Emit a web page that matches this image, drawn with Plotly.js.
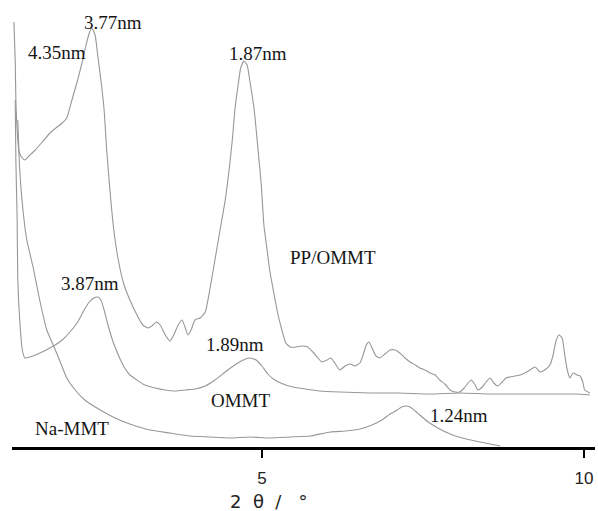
<!DOCTYPE html>
<html>
<head>
<meta charset="utf-8">
<script src="https://cdn.plot.ly/plotly-3.0.1.min.js"></script>
<style>html,body{margin:0;padding:0;background:#fff;}#chart{width:598px;height:511px;}</style>
</head>
<body>
<div id="chart"></div>
<script>
// 2θ (degrees) and intensity (arbitrary units)
const ppOmmtX = [1.15,1.17,1.18,1.20,1.23,1.28,1.32,1.40,1.48,1.59,1.71,1.82,1.90,1.97,2.05,2.13,2.21,2.27,2.32,2.36,2.41,2.45,2.50,2.55,2.59,2.64,2.70,2.77,2.86,2.95,3.06,3.15,3.23,3.29,3.36,3.42,3.50,3.57,3.63,3.70,3.76,3.81,3.85,3.90,3.96,4.04,4.12,4.19,4.27,4.35,4.43,4.49,4.54,4.58,4.63,4.67,4.72,4.77,4.81,4.88,4.94,4.99,5.03,5.08,5.12,5.19,5.25,5.31,5.37,5.44,5.53,5.62,5.71,5.79,5.87,5.93,6.01,6.07,6.13,6.21,6.29,6.37,6.44,6.52,6.57,6.62,6.66,6.71,6.77,6.83,6.91,6.99,7.07,7.14,7.22,7.30,7.38,7.45,7.53,7.61,7.69,7.76,7.84,7.92,8.00,8.07,8.14,8.20,8.25,8.31,8.35,8.42,8.48,8.54,8.60,8.66,8.73,8.79,8.85,8.93,9.01,9.08,9.16,9.24,9.32,9.39,9.47,9.52,9.56,9.61,9.66,9.70,9.74,9.78,9.83,9.89,9.94,9.98,10.01,10.09];
const ppOmmtY = [425,387,347,317,295,289,287,292,297,305,314,320,324,329,347,365,385,402,414,419,412,392,367,337,297,257,217,187,162,147,132,122,119,121,125,122,112,106,112,122,127,119,112,117,127,129,135,157,187,217,247,277,307,337,362,379,386,382,367,337,297,262,222,197,177,152,132,117,104,100,100,101,100,95,89,85,87,89,84,77,81,83,81,84,92,102,105,99,91,89,93,97,97,94,89,85,82,79,77,74,72,67,63,57,55,55,59,64,67,62,57,60,65,69,64,61,65,69,70,71,72,74,77,80,75,77,82,92,105,112,109,92,77,69,74,72,71,65,57,54];

const ommtX = [1.17,1.18,1.20,1.21,1.24,1.28,1.32,1.40,1.52,1.65,1.79,1.90,2.02,2.14,2.24,2.32,2.39,2.45,2.50,2.55,2.61,2.69,2.77,2.86,2.95,3.06,3.18,3.34,3.50,3.65,3.81,3.96,4.12,4.27,4.43,4.58,4.71,4.81,4.91,5.00,5.09,5.20,5.33,5.48,5.67,5.90,6.21,6.68,7.14,7.61,8.07,8.54,9.01,9.47,9.86,10.09];
const ommtY = [347,287,227,167,127,97,89,90,93,97,102,107,115,125,137,145,149,150,147,137,122,105,92,80,72,67,62,59,57,56,57,58,61,67,75,82,87,89,87,81,73,67,63,60,58,56,55,54,54,53,54,53,53,53,53,52];

const naMmtX = [1.21,1.24,1.29,1.35,1.45,1.55,1.66,1.76,1.87,1.97,2.10,2.25,2.49,2.72,2.95,3.26,3.57,3.88,4.19,4.50,4.81,5.12,5.44,5.75,6.06,6.29,6.52,6.71,6.86,6.99,7.10,7.17,7.24,7.30,7.38,7.45,7.58,7.73,7.92,8.11,8.31,8.54,8.70];
const naMmtY = [327,277,237,207,179,147,117,102,85,69,57,47,37,29,23,17,14,11,10,9,10,9,10,11,15,16,18,22,27,33,37,40,41,40,36,32,25,19,13,9,6,3,1];

const tickVals = [5, 10];
const tickText = ['5', '10'];

const labels = [
  {text: '3.77nm', x: 2.69, y: 425},
  {text: '4.35nm', x: 1.82, y: 395},
  {text: '1.87nm', x: 4.94, y: 394},
  {text: '3.87nm', x: 2.33, y: 164},
  {text: '1.89nm', x: 4.58, y: 103},
  {text: 'PP/OMMT', x: 6.10, y: 190},
  {text: 'OMMT', x: 4.67, y: 47},
  {text: 'Na-MMT', x: 2.05, y: 19},
  {text: '1.24nm', x: 8.06, y: 32}
];

const lineStyle = {color: '#979797', width: 1.1, shape: 'spline', smoothing: 0.5};
const traces = [
  {x: ppOmmtX, y: ppOmmtY, name: 'PP/OMMT'},
  {x: ommtX, y: ommtY, name: 'OMMT'},
  {x: naMmtX, y: naMmtY, name: 'Na-MMT'}
].map(t => Object.assign(t, {type: 'scatter', mode: 'lines', line: lineStyle, hoverinfo: 'skip'}));

const annotations = labels.map(l => ({
  text: l.text, x: l.x, y: l.y, xref: 'x', yref: 'y', showarrow: false,
  xanchor: 'center', yanchor: 'middle',
  font: {family: 'Liberation Serif, Times New Roman, serif', size: 19, color: '#151515'}
}));
annotations.push({
  text: '2\u00A0\u00A0θ\u00A0\u00A0/\u00A0\u00A0\u00A0°', xref: 'paper', yref: 'paper',
  x: 0.441, y: -0.123, xanchor: 'center', yanchor: 'middle', showarrow: false,
  font: {family: 'DejaVu Sans, sans-serif', size: 18, color: '#222'}
});

const layout = {
  width: 598, height: 511,
  margin: {l: 12, r: 3, t: 0, b: 64, pad: 0},
  paper_bgcolor: '#fff', plot_bgcolor: '#fff',
  showlegend: false,
  xaxis: {
    range: [1.12, 10.17], showgrid: false, zeroline: false,
    showline: true, linecolor: '#000', linewidth: 3,
    tickmode: 'array', tickvals: tickVals, ticktext: tickText,
    ticks: 'outside', ticklen: 8, tickwidth: 2, tickcolor: '#000',
    ticklabelstandoff: 6,
    tickfont: {family: 'Liberation Sans, Arial, sans-serif', size: 17, color: '#222'}
  },
  yaxis: {range: [0, 447], visible: false, showgrid: false, zeroline: false},
  annotations: annotations
};

Plotly.newPlot('chart', traces, layout, {staticPlot: true, displayModeBar: false});
</script>
</body>
</html>
